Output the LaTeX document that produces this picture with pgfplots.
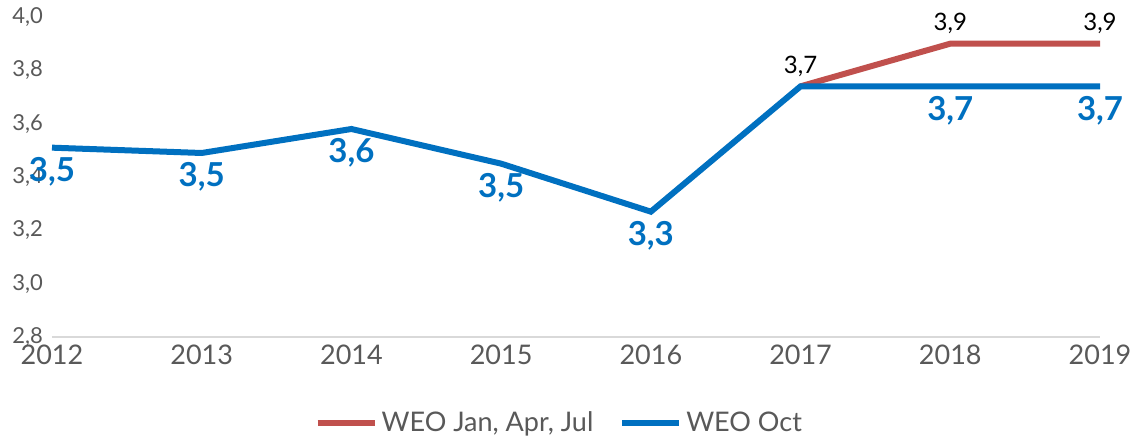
\documentclass[border=0pt]{standalone}
\usepackage{pgfplots}
\pgfplotsset{compat=1.18}
\usepackage{fontspec}
\setmainfont{Lato}
\definecolor{weoblue}{HTML}{0070C0}
\definecolor{weored}{HTML}{C0504D}
\definecolor{tickgray}{HTML}{595959}
\definecolor{axgray}{HTML}{D9D9D9}
\begin{document}
\begin{tikzpicture}
\begin{axis}[
  scale only axis,
  width=524pt, height=160pt,
  xmin=2012, xmax=2019,
  ymin=2.8, ymax=4.0,
  xtick={2012,2013,2014,2015,2016,2017,2018,2019},
  xticklabels={2012,2013,2014,2015,2016,2017,2018,2019},
  ytick={2.8,3.0,3.2,3.4,3.6,3.8,4.0},
  axis x line*=bottom,
  axis y line*=left,
  x axis line style={-, draw=axgray, line width=0.7pt},
  y axis line style={-, draw=none},
  major tick length=0pt,
  tick style={draw=none},
  /pgf/number format/assume math mode=true,
  yticklabel style={font=\fontsize{11}{13}\selectfont, text=tickgray, xshift=-1pt,
    /pgf/number format/.cd, fixed, fixed zerofill, precision=1, use comma},
  xticklabel style={font=\fontsize{13.5}{15}\selectfont, text=tickgray, yshift=-0.5pt},
  clip=false,
  legend columns=2,
  legend style={draw=none, at={(0.485,-0.269)}, anchor=center,
    font=\fontsize{13.5}{15}\selectfont, text=tickgray,
    /tikz/every even column/.append style={column sep=11pt},
    nodes={inner sep=2pt}},
  legend image code/.code={\draw[#1, line width=3pt] (0pt,0pt) -- (28.5pt,0pt);},
]
\addplot[weored, line width=3pt] coordinates {(2017,3.74) (2018,3.90) (2019,3.90)};
\addlegendentry{WEO Jan, Apr, Jul}
\addplot[weoblue, line width=3pt] coordinates {(2012,3.51) (2013,3.49) (2014,3.58) (2015,3.45) (2016,3.27) (2017,3.74) (2018,3.74) (2019,3.74)};
\addlegendentry{WEO Oct}
% blue labels
\addplot[draw=none, forget plot, point meta=explicit symbolic,
  nodes near coords,
  every node near coord/.style={anchor=center, yshift=-12pt, text=weoblue,
    font=\fontsize{16.5}{18}\selectfont\bfseries}]
  table[meta=l] {
x y l
2012 3.51 3,5
2013 3.49 3,5
2014 3.58 3,6
2015 3.45 3,5
2016 3.27 3,3
2018 3.74 3,7
2019 3.74 3,7
};
% black labels
\addplot[draw=none, forget plot, point meta=explicit symbolic,
  nodes near coords,
  every node near coord/.style={anchor=center, yshift=10pt, text=black,
    font=\fontsize{12}{14}\selectfont}]
  table[meta=l] {
x y l
2017 3.74 3,7
2018 3.90 3,9
2019 3.90 3,9
};
\end{axis}
\pgfresetboundingbox
\useasboundingbox (-26pt,-50.5pt) rectangle (541.5pt,168.5pt);
\end{tikzpicture}
\end{document}
